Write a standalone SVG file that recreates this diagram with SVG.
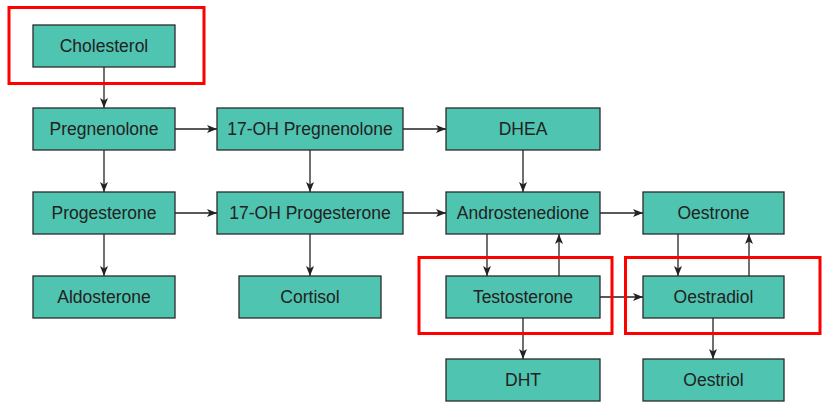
<svg xmlns="http://www.w3.org/2000/svg" width="835" height="411" viewBox="0 0 835 411">
<defs>
<style>
.n rect{fill:#4FC4B0;stroke:#2b2b2b;stroke-width:1.3}
.n text{font-family:"Liberation Sans",Arial,sans-serif;font-size:17.5px;fill:#222;text-anchor:middle;dominant-baseline:central}
.c line{stroke:#222;stroke-width:1.3;marker-end:url(#ah)}
.hl{fill:none;stroke:#FF0000;stroke-width:3}
</style>
<marker id="ah" viewBox="0 0 10 8" refX="10" refY="4" markerWidth="10" markerHeight="8" markerUnits="userSpaceOnUse" orient="auto">
<path d="M0,0 L10,4 L0,8 L2.5,4 Z" fill="#222"/>
</marker>
</defs>
<rect width="835" height="411" fill="#fff"/>
<g id="connectors" class="c">
<line x1="104" y1="67" x2="104" y2="108"/>
<line x1="104" y1="150" x2="104" y2="192"/>
<line x1="104" y1="234" x2="104" y2="276"/>
<line x1="175" y1="129" x2="217" y2="129"/>
<line x1="403" y1="129" x2="446" y2="129"/>
<line x1="175" y1="213" x2="217" y2="213"/>
<line x1="403" y1="213" x2="446" y2="213"/>
<line x1="600" y1="213" x2="643" y2="213"/>
<line x1="310" y1="150" x2="310" y2="192"/>
<line x1="310" y1="234" x2="310" y2="276"/>
<line x1="523" y1="150" x2="523" y2="192"/>
<line x1="487" y1="234" x2="487" y2="276"/>
<line x1="559" y1="276" x2="559" y2="234"/>
<line x1="678" y1="234" x2="678" y2="276"/>
<line x1="749" y1="276" x2="749" y2="234"/>
<line x1="600" y1="297" x2="643" y2="297"/>
<line x1="523" y1="318" x2="523" y2="359"/>
<line x1="713" y1="318" x2="713" y2="359"/>
</g>
<g id="cholesterol" class="n"><rect x="33" y="25" width="142" height="42"/><text x="104" y="46">Cholesterol</text></g>
<g id="pregnenolone" class="n"><rect x="33" y="108" width="142" height="42"/><text x="104" y="129">Pregnenolone</text></g>
<g id="progesterone" class="n"><rect x="33" y="192" width="142" height="42"/><text x="104" y="213">Progesterone</text></g>
<g id="aldosterone" class="n"><rect x="33" y="276" width="142" height="42"/><text x="104" y="297">Aldosterone</text></g>
<g id="oh-pregnenolone" class="n"><rect x="217" y="108" width="186" height="42"/><text x="310" y="129">17-OH Pregnenolone</text></g>
<g id="oh-progesterone" class="n"><rect x="217" y="192" width="186" height="42"/><text x="310" y="213">17-OH Progesterone</text></g>
<g id="cortisol" class="n"><rect x="239" y="276" width="142" height="42"/><text x="310" y="297">Cortisol</text></g>
<g id="dhea" class="n"><rect x="446" y="108" width="154" height="42"/><text x="523" y="129">DHEA</text></g>
<g id="androstenedione" class="n"><rect x="446" y="192" width="154" height="42"/><text x="523" y="213">Androstenedione</text></g>
<g id="testosterone" class="n"><rect x="446" y="276" width="154" height="42"/><text x="523" y="297">Testosterone</text></g>
<g id="dht" class="n"><rect x="446" y="359" width="154" height="42"/><text x="523" y="380">DHT</text></g>
<g id="oestrone" class="n"><rect x="643" y="192" width="141" height="42"/><text x="713.5" y="213">Oestrone</text></g>
<g id="oestradiol" class="n"><rect x="643" y="276" width="141" height="42"/><text x="713.5" y="297">Oestradiol</text></g>
<g id="oestriol" class="n"><rect x="643" y="359" width="141" height="42"/><text x="713.5" y="380">Oestriol</text></g>
<g id="highlights">
<rect class="hl" x="9" y="7.5" width="195" height="76"/>
<rect class="hl" x="419" y="257.5" width="193" height="76"/>
<rect class="hl" x="625.5" y="257.5" width="194.5" height="76"/>
</g>
</svg>
